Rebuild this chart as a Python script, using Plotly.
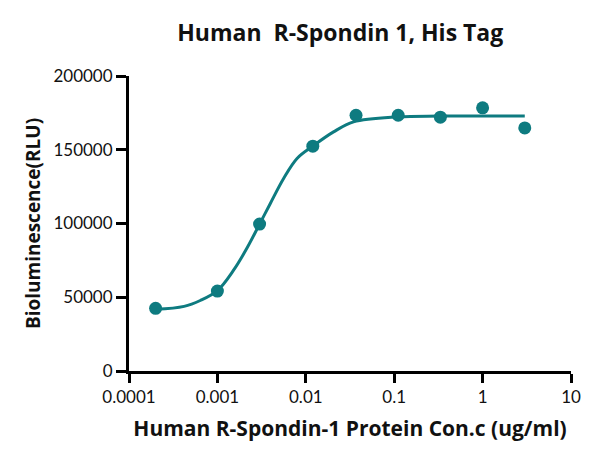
import plotly.graph_objects as go

# measured points (ug/ml vs RLU)
conc = [0.0002, 0.001, 0.003, 0.012, 0.037, 0.111, 0.333, 1.0, 3.0]
rlu = [42500, 54200, 99600, 152400, 173400, 173400, 172100, 178400, 164800]

# fitted curve
curve_conc = [0.0002, 0.00042, 0.00064, 0.001, 0.00153, 0.00217, 0.003, 0.00397,
              0.00561, 0.00796, 0.0121, 0.0206, 0.0347, 0.11, 0.33, 3.0]
curve_rlu = [41800, 43800, 47800, 54500, 68500, 83500, 99600, 113600,
             130500, 144100, 152600, 162100, 168900, 172300, 172800, 172800]

x_ticks = [0.0001, 0.001, 0.01, 0.1, 1, 10]
x_tick_text = ['0.0001', '0.001', '0.01', '0.1', '1', '10']
y_ticks = [0, 50000, 100000, 150000, 200000]
y_tick_text = ['0', '50000', '100000', '150000', '200000']

teal = '#0E7B80'

fig = go.Figure()

fig.add_trace(go.Scatter(x=curve_conc, y=curve_rlu, mode='lines',
                         line=dict(color=teal, width=3, shape='spline', smoothing=1.0),
                         hoverinfo='skip', showlegend=False))

fig.add_trace(go.Scatter(x=conc, y=rlu, mode='markers',
                         marker=dict(color=teal, size=13),
                         showlegend=False))

fig.update_xaxes(type='log', range=[-4, 1], tickvals=x_ticks, ticktext=x_tick_text,
                 showline=True, linecolor='black', linewidth=3, showgrid=False, zeroline=False,
                 ticks='outside', ticklen=9, tickwidth=3, tickcolor='black', automargin=False,
                 tickfont=dict(family='Lato', size=17, color='#111'),
                 title=dict(text='<b>Human R-Spondin-1 Protein Con.c (ug/ml)</b>',
                            font=dict(family='Open Sans', size=21, color='#111'), standoff=15))

fig.update_yaxes(range=[0, 200000], tickvals=y_ticks, ticktext=y_tick_text,
                 showline=True, linecolor='black', linewidth=3, showgrid=False, zeroline=False,
                 ticks='outside', ticklen=10, tickwidth=3, tickcolor='black', automargin=False,
                 tickfont=dict(family='Lato', size=17, color='#111'),
                 title=dict(text='<b>Bioluminescence(RLU)</b>',
                            font=dict(family='Open Sans', size=19, color='#111'), standoff=8))

fig.update_layout(
    title=dict(text='<b>Human  R-Spondin 1, His Tag</b>', x=0.551, xanchor='center',
               y=0.946, yanchor='middle',
               font=dict(family='Open Sans', size=23, color='#111')),
    width=603, height=460,
    margin=dict(l=121, r=40, t=68, b=97),
    paper_bgcolor='white',
    plot_bgcolor='white',
    showlegend=False,
)

fig.write_html('out.html')
